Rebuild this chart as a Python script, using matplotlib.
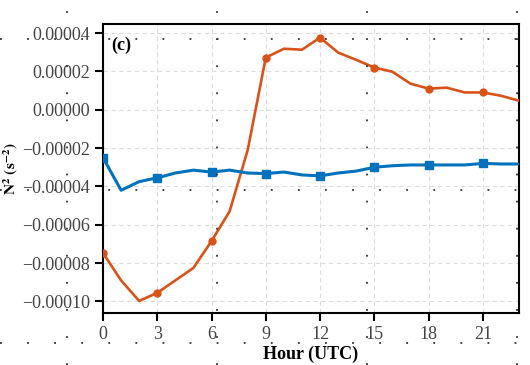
import matplotlib
matplotlib.use("Agg")
import matplotlib.pyplot as plt
from matplotlib.lines import Line2D

# hourly N^2 values (s^-2)
hours = list(range(0, 24))
n2_orange = [-7.47e-5, -8.9e-5, -9.97e-5, -9.55e-5, -8.9e-5, -8.25e-5, -6.85e-5, -5.3e-5,
             -2.1e-5, 2.72e-5, 3.18e-5, 3.13e-5, 3.76e-5, 2.98e-5, 2.6e-5, 2.2e-5,
             1.98e-5, 1.36e-5, 1.1e-5, 1.15e-5, 0.9e-5, 0.9e-5, 0.73e-5, 0.47e-5]
n2_blue = [-2.5e-5, -4.2e-5, -3.75e-5, -3.55e-5, -3.3e-5, -3.15e-5, -3.25e-5, -3.15e-5,
           -3.3e-5, -3.33e-5, -3.25e-5, -3.4e-5, -3.45e-5, -3.3e-5, -3.2e-5, -3.0e-5,
           -2.92e-5, -2.88e-5, -2.88e-5, -2.88e-5, -2.88e-5, -2.8e-5, -2.83e-5, -2.83e-5]
xticks = [0, 3, 6, 9, 12, 15, 18, 21]
yticks = [0.00004, 0.00002, 0.0, -0.00002, -0.00004, -0.00006, -0.00008, -0.00010]
ytick_labels = ["0.00004", "0.00002", "0.00000", "\u22120.00002", "\u22120.00004",
                "\u22120.00006", "\u22120.00008", "\u22120.00010"]

plt.rcParams['font.family'] = ['Liberation Serif', 'DejaVu Serif']
plt.rcParams['mathtext.fontset'] = 'stix'

fig = plt.figure(figsize=(5.3, 3.65), dpi=100)
ax = fig.add_axes([103 / 530, 1 - 313 / 365, 416 / 530, 289 / 365])

ax.plot(hours, n2_orange, color='#D95319', lw=1.9, marker='o', markersize=5,
        markevery=3, zorder=3)
ax.plot(hours, n2_blue, color='#0072BD', lw=2.2, marker='s', markersize=5.5,
        markevery=3, zorder=3)

ax.set_xlim(0, 23)
ax.set_ylim(-0.000106, 0.0000447)
ax.set_xticks(xticks)
ax.set_yticks(yticks)
ax.set_yticklabels(ytick_labels)
ax.grid(True, linestyle=(0, (4, 3)), color='#dddddd', linewidth=0.8)
ax.tick_params(direction='out', length=6, width=1.5, labelsize=13, labelcolor='#444444',
               top=False, right=False)
for s in ax.spines.values():
    s.set_linewidth(1.5)

ax.set_xlabel("Hour (UTC)", fontsize=13, fontweight='bold', labelpad=2)
ax.set_ylabel(r"$\mathbf{N^2\ (s^{-2})}$", fontsize=11, labelpad=1)
ax.text(0.02, 0.955, "(c)", transform=ax.transAxes, fontsize=13, fontweight='bold',
        va='top', ha='left')

# dotted tiling guides that run across the picture
for xp in [67, 217, 367, 517]:
    fig.add_artist(Line2D([xp / 530, xp / 530], [0, 1], transform=fig.transFigure,
                          color='#333333', lw=1.3, linestyle=(0, (1, 14)), zorder=10))
for yp in [39, 190, 343]:
    fig.add_artist(Line2D([0, 1], [1 - yp / 365, 1 - yp / 365], transform=fig.transFigure,
                          color='#333333', lw=1.3, linestyle=(0, (1, 14)), zorder=10))

fig.savefig("out.png", dpi=100)
